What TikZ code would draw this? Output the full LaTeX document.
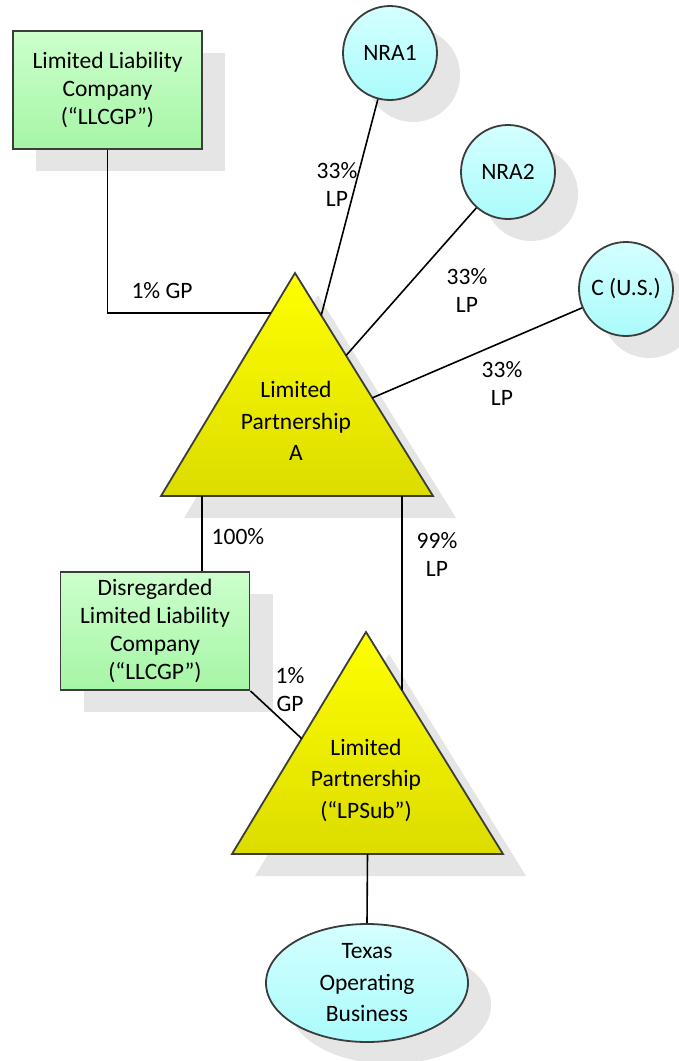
\documentclass[tikz,border=0pt]{standalone}
\usepackage{fontspec}
\setmainfont{Carlito}
\usetikzlibrary{shadows,calc,shapes.geometric}

\definecolor{edgegray}{HTML}{3C3C3C}
\definecolor{shadowgray}{HTML}{E5E5E5}
\definecolor{llctop}{HTML}{CCFFCC}
\definecolor{llcbot}{HTML}{A6F5A6}
\definecolor{indtop}{HTML}{D4FFFF}
\definecolor{indbot}{HTML}{ABFBFB}
\definecolor{lptop}{HTML}{FFFF00}
\definecolor{lpbot}{HTML}{DCDC00}

\tikzset{
    entity/.style={draw=edgegray, line width=1.8pt,
        general shadow={fill=shadowgray, shadow xshift=23pt, shadow yshift=-22pt}},
    llcbox/.style={entity, rectangle, top color=llctop, bottom color=llcbot,
        minimum width=189pt, minimum height=118pt, inner sep=0pt,
        align=center, font=\fontsize{23.5}{28}\selectfont},
    person/.style={entity, circle, top color=indtop, bottom color=indbot,
        minimum size=94pt, inner sep=0pt, font=\fontsize{23.5}{28}\selectfont},
    business/.style={entity, ellipse, top color=indtop, bottom color=indbot,
        minimum width=202pt, minimum height=118pt, inner sep=0pt,
        align=center, font=\fontsize{23.5}{31.5}\selectfont},
    tri/.style={entity, top color=lptop, bottom color=lpbot, line join=miter},
    tritext/.style={align=center, font=\fontsize{23.5}{31.5}\selectfont},
    link/.style={draw=black, line width=1.6pt},
    pct/.style={align=center, inner sep=0pt, font=\fontsize{23.5}{28}\selectfont}
}

\begin{document}
\begin{tikzpicture}[x=1pt, y=-1pt]
    \useasboundingbox (0,0) rectangle (678,1061);

    % Owners
    \node [llcbox] (llc) at (107.5,90) {Limited Liability\\Company\\(“LLCGP”)};
    \foreach \name/\x/\y/\txt in {nra1/390/53/NRA1, nra2/508/172/NRA2, cus/626/289/C (U.S.)}
        \node [person] (\name) at (\x,\y) {\txt};

    % Limited Partnership A
    \coordinate (Aapex) at (295,273);
    \coordinate (Aleft) at (161,496);
    \coordinate (Aright) at (433,496);
    \path [tri] (Aapex) -- (Aright) -- (Aleft) -- cycle;
    \node [tritext] (lpa) at (296,421) {Limited\\Partnership\\A};

    % Disregarded LLC and LPSub
    \node [llcbox] (dllc) at (155,631) {Disregarded\\Limited Liability\\Company\\(“LLCGP”)};
    \coordinate (Bapex) at (366,632);
    \coordinate (Bleft) at (232,854);
    \coordinate (Bright) at (503,854);
    \path [tri] (Bapex) -- (Bright) -- (Bleft) -- cycle;
    \node [tritext] (lpsub) at (366,780) {Limited\\Partnership\\(“LPSub”)};

    % Business
    \node [business] (tex) at (367,983) {Texas\\Operating\\Business};

    % Ownership lines
    \draw [link] (llc.south) |- ($(Aapex)!0.179!(Aleft)$);
    \foreach \who/\t in {nra1/0.19, nra2/0.37, cus/0.56}
        \draw [link] (\who) -- ($(Aapex)!\t!(Aright)$);
    \coordinate (Abase1) at ($(Aleft)!0.151!(Aright)$);
    \draw [link] (Abase1) -- (Abase1 |- dllc.north);
    \draw [link] ($(Aleft)!0.886!(Aright)$) -- ($(Bapex)!0.263!(Bright)$);
    \draw [link] (dllc.south east) -- ($(Bapex)!0.48!(Bleft)$);
    \draw [link] ($(Bleft)!0.5!(Bright)$) -- (tex.north);

    % Percentages
    \node [pct] (gp1) at (162,291) {1\% GP};
    \node [pct] (lp1) at (337,184) {33\%\\LP};
    \node [pct] (lp2) at (467,290) {33\%\\LP};
    \node [pct] (lp3) at (502,383) {33\%\\LP};
    \node [pct] (own100) at (238,537) {100\%};
    \node [pct] (lp99) at (437,554) {99\%\\LP};
    \node [pct] (gpsub) at (290,690) {1\%\\GP};
\end{tikzpicture}
\end{document}
